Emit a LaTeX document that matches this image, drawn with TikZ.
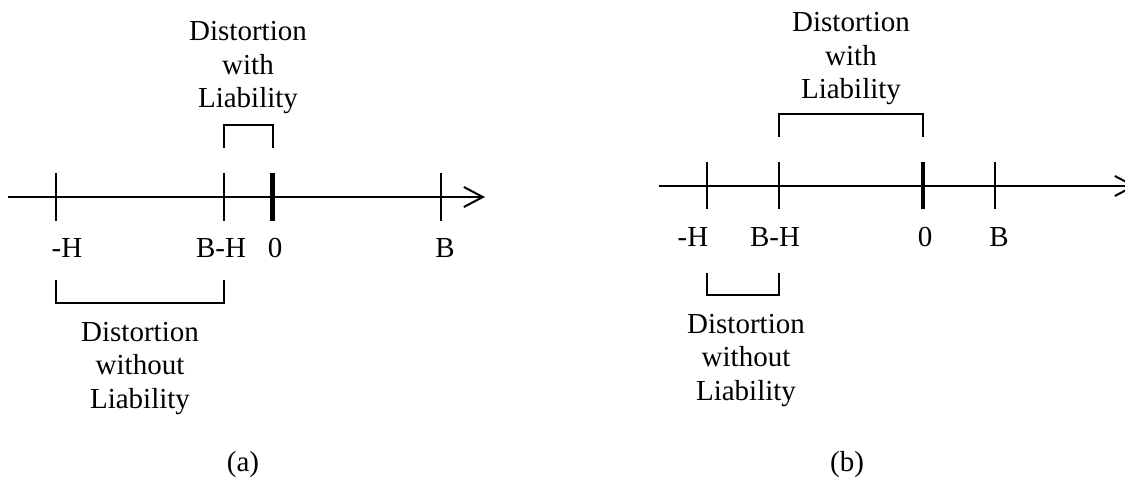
\documentclass[tikz,border=0pt]{standalone}
\usepackage{fontspec}
\setmainfont{Liberation Serif}
\usetikzlibrary{arrows.meta}
\begin{document}
\begin{tikzpicture}[x=1pt,y=-1pt,line width=2pt,
  txt/.style={font=\fontsize{29}{33.5}\selectfont,inner sep=0pt,align=center,anchor=base},
  axis/.style={-{Straight Barb[length=19pt,width=20pt,line width=2pt]}},
  zerotick/.style={line width=4.8pt},
  bracket/.style={line width=2pt,line join=miter}]
\useasboundingbox (0,0) rectangle (1125,478);
\clip (0,0) rectangle (1125,478);
% ---------- panel (a) ----------
\coordinate (aS) at (8,197);
\coordinate (aE) at (485,197);
\coordinate (aH) at (56,197);
\coordinate (aBH) at (224,197);
\coordinate (aZ) at (272.7,197);
\coordinate (aB) at (440.7,197);
\draw[axis] (aS) -- (aE);
\foreach \p in {aH,aBH,aB} \draw ([yshift=24pt]\p) -- ([yshift=-24pt]\p);
\draw[zerotick] ([yshift=24pt]aZ) -- ([yshift=-24pt]aZ);
\node[txt] (laH) at (67,258) {-H};
\node[txt] (laBH) at (221,258) {B-H};
\node[txt] (laZ) at (275,258) {0};
\node[txt] (laB) at (445,258) {B};
\draw[bracket] (aBH |- 0,148) -- (aBH |- 0,125) -- (aZ |- 0,125) -- (aZ |- 0,148);
\node[txt] (aWith) at (248,108) {Distortion\\with\\Liability};
\draw[bracket] (aH |- 0,280) -- (aH |- 0,303) -- (aBH |- 0,303) -- (aBH |- 0,280);
\node[txt] (aWithout) at (140,408) {Distortion\\without\\Liability};
\node[txt] (capA) at (243,471) {(a)};
% ---------- panel (b) ----------
\coordinate (bS) at (659,186);
\coordinate (bE) at (1136,186);
\coordinate (bH) at (707,186);
\coordinate (bBH) at (779,186);
\coordinate (bZ) at (923,186);
\coordinate (bB) at (995,186);
\draw[axis] (bS) -- (bE);
\foreach \p in {bH,bBH,bB} \draw ([yshift=23.5pt]\p) -- ([yshift=-23.5pt]\p);
\draw[zerotick] ([yshift=23.5pt]bZ) -- ([yshift=-23.5pt]bZ);
\node[txt] (lbH) at (693,247) {-H};
\node[txt] (lbBH) at (775,247) {B-H};
\node[txt] (lbZ) at (925,247) {0};
\node[txt] (lbB) at (999,247) {B};
\draw[bracket] (bBH |- 0,137) -- (bBH |- 0,114) -- (bZ |- 0,114) -- (bZ |- 0,137);
\node[txt] (bWith) at (851,99) {Distortion\\with\\Liability};
\draw[bracket] (bH |- 0,273) -- (bH |- 0,295) -- (bBH |- 0,295) -- (bBH |- 0,273);
\node[txt] (bWithout) at (746,400) {Distortion\\without\\Liability};
\node[txt] (capB) at (847,471) {(b)};
\end{tikzpicture}
\end{document}
